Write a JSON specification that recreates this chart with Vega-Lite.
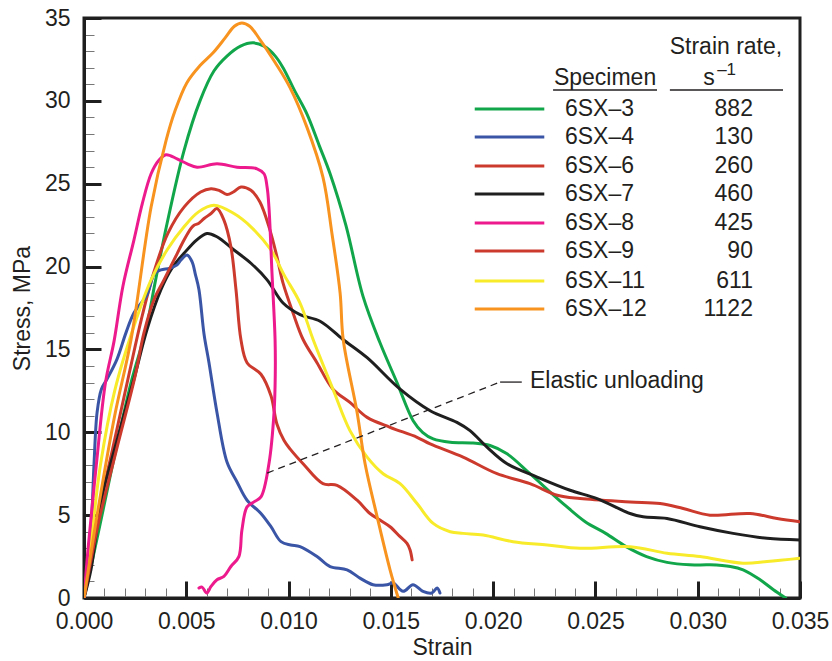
{
  "$schema": "https://vega.github.io/schema/vega-lite/v6.json",
  "width": 716,
  "height": 580,
  "autosize": "none",
  "padding": {"left": 84, "top": 18, "right": 32, "bottom": 63},
  "config": {
    "font": "Liberation Sans",
    "view": {"stroke": "#1f1f1f", "strokeWidth": 3},
    "text": {"font": "Liberation Sans", "fontSize": 23, "color": "#231f20"}
  },
  "resolve": {"axis": {"x": "independent", "y": "independent"}},
  "datasets": {
    "curves": [
      {"s": "6SX–3", "e": 0, "v": 0}, {"s": "6SX–3", "e": 0.0005, "v": 2.8}, {"s": "6SX–3", "e": 0.00088, "v": 5}, {"s": "6SX–3", "e": 0.0016, "v": 9.2}, {"s": "6SX–3", "e": 0.0023, "v": 13}, {"s": "6SX–3", "e": 0.00303, "v": 16.2}, {"s": "6SX–3", "e": 0.00347, "v": 19.0}, {"s": "6SX–3", "e": 0.00406, "v": 22.6}, {"s": "6SX–3", "e": 0.00489, "v": 27.0}, {"s": "6SX–3", "e": 0.00567, "v": 30.0}, {"s": "6SX–3", "e": 0.00635, "v": 31.8}, {"s": "6SX–3", "e": 0.00699, "v": 32.7}, {"s": "6SX–3", "e": 0.00765, "v": 33.3}, {"s": "6SX–3", "e": 0.00827, "v": 33.5}, {"s": "6SX–3", "e": 0.0088, "v": 33.3}, {"s": "6SX–3", "e": 0.00935, "v": 32.7}, {"s": "6SX–3", "e": 0.00973, "v": 32.0}, {"s": "6SX–3", "e": 0.0103, "v": 30.6}, {"s": "6SX–3", "e": 0.0109, "v": 29.2}, {"s": "6SX–3", "e": 0.0115, "v": 27.3}, {"s": "6SX–3", "e": 0.01203, "v": 25.6}, {"s": "6SX–3", "e": 0.0128, "v": 22.5}, {"s": "6SX–3", "e": 0.01364, "v": 18.2}, {"s": "6SX–3", "e": 0.01447, "v": 15.4}, {"s": "6SX–3", "e": 0.0153, "v": 13.0}, {"s": "6SX–3", "e": 0.01609, "v": 10.7}, {"s": "6SX–3", "e": 0.01655, "v": 10.0}, {"s": "6SX–3", "e": 0.01707, "v": 9.6}, {"s": "6SX–3", "e": 0.0179, "v": 9.4}, {"s": "6SX–3", "e": 0.01902, "v": 9.35}, {"s": "6SX–3", "e": 0.01985, "v": 9.2}, {"s": "6SX–3", "e": 0.02068, "v": 8.7}, {"s": "6SX–3", "e": 0.0218, "v": 7.5}, {"s": "6SX–3", "e": 0.02342, "v": 5.7}, {"s": "6SX–3", "e": 0.0245, "v": 4.6}, {"s": "6SX–3", "e": 0.0255, "v": 3.9}, {"s": "6SX–3", "e": 0.0265, "v": 3.1}, {"s": "6SX–3", "e": 0.0275, "v": 2.5}, {"s": "6SX–3", "e": 0.0285, "v": 2.15}, {"s": "6SX–3", "e": 0.0296, "v": 2.0}, {"s": "6SX–3", "e": 0.0306, "v": 2.0}, {"s": "6SX–3", "e": 0.0316, "v": 1.9}, {"s": "6SX–3", "e": 0.03222, "v": 1.7}, {"s": "6SX–3", "e": 0.03305, "v": 1.1}, {"s": "6SX–3", "e": 0.0337, "v": 0.5}, {"s": "6SX–3", "e": 0.0343, "v": 0},

      {"s": "6SX–6", "e": 0, "v": 0}, {"s": "6SX–6", "e": 0.0006, "v": 4.5}, {"s": "6SX–6", "e": 0.0014, "v": 9}, {"s": "6SX–6", "e": 0.0022, "v": 13.5}, {"s": "6SX–6", "e": 0.0028, "v": 16.8}, {"s": "6SX–6", "e": 0.0034, "v": 19.6}, {"s": "6SX–6", "e": 0.0041, "v": 22.0}, {"s": "6SX–6", "e": 0.0049, "v": 23.6}, {"s": "6SX–6", "e": 0.0057, "v": 24.5}, {"s": "6SX–6", "e": 0.00621, "v": 24.7}, {"s": "6SX–6", "e": 0.0066, "v": 24.6}, {"s": "6SX–6", "e": 0.00699, "v": 24.35}, {"s": "6SX–6", "e": 0.0073, "v": 24.5}, {"s": "6SX–6", "e": 0.00767, "v": 24.8}, {"s": "6SX–6", "e": 0.00816, "v": 24.6}, {"s": "6SX–6", "e": 0.0086, "v": 23.9}, {"s": "6SX–6", "e": 0.00909, "v": 22.2}, {"s": "6SX–6", "e": 0.00943, "v": 20.6}, {"s": "6SX–6", "e": 0.00973, "v": 19.0}, {"s": "6SX–6", "e": 0.01022, "v": 17.2}, {"s": "6SX–6", "e": 0.01071, "v": 15.6}, {"s": "6SX–6", "e": 0.01139, "v": 14.2}, {"s": "6SX–6", "e": 0.01217, "v": 12.6}, {"s": "6SX–6", "e": 0.013, "v": 11.8}, {"s": "6SX–6", "e": 0.01384, "v": 10.9}, {"s": "6SX–6", "e": 0.01496, "v": 10.3}, {"s": "6SX–6", "e": 0.01628, "v": 9.7}, {"s": "6SX–6", "e": 0.01692, "v": 9.3}, {"s": "6SX–6", "e": 0.01853, "v": 8.5}, {"s": "6SX–6", "e": 0.02019, "v": 7.5}, {"s": "6SX–6", "e": 0.0218, "v": 6.9}, {"s": "6SX–6", "e": 0.02313, "v": 6.2}, {"s": "6SX–6", "e": 0.02425, "v": 6.0}, {"s": "6SX–6", "e": 0.02669, "v": 5.8}, {"s": "6SX–6", "e": 0.02816, "v": 5.7}, {"s": "6SX–6", "e": 0.02929, "v": 5.4}, {"s": "6SX–6", "e": 0.0306, "v": 5.0}, {"s": "6SX–6", "e": 0.03256, "v": 5.1}, {"s": "6SX–6", "e": 0.03388, "v": 4.8}, {"s": "6SX–6", "e": 0.035, "v": 4.6},

      {"s": "6SX–7", "e": 0, "v": 0}, {"s": "6SX–7", "e": 0.00034, "v": 1.7}, {"s": "6SX–7", "e": 0.00083, "v": 5.8}, {"s": "6SX–7", "e": 0.00161, "v": 9.5}, {"s": "6SX–7", "e": 0.00244, "v": 13.2}, {"s": "6SX–7", "e": 0.00308, "v": 16.2}, {"s": "6SX–7", "e": 0.00376, "v": 18.6}, {"s": "6SX–7", "e": 0.0043, "v": 19.9}, {"s": "6SX–7", "e": 0.00489, "v": 20.8}, {"s": "6SX–7", "e": 0.0055, "v": 21.6}, {"s": "6SX–7", "e": 0.00601, "v": 22.0}, {"s": "6SX–7", "e": 0.0065, "v": 21.8}, {"s": "6SX–7", "e": 0.00733, "v": 21.0}, {"s": "6SX–7", "e": 0.00816, "v": 20.2}, {"s": "6SX–7", "e": 0.00895, "v": 19.2}, {"s": "6SX–7", "e": 0.00973, "v": 17.8}, {"s": "6SX–7", "e": 0.01056, "v": 17.1}, {"s": "6SX–7", "e": 0.01154, "v": 16.7}, {"s": "6SX–7", "e": 0.01266, "v": 15.6}, {"s": "6SX–7", "e": 0.01384, "v": 14.5}, {"s": "6SX–7", "e": 0.01545, "v": 12.6}, {"s": "6SX–7", "e": 0.01692, "v": 11.3}, {"s": "6SX–7", "e": 0.01823, "v": 10.6}, {"s": "6SX–7", "e": 0.01887, "v": 10.1}, {"s": "6SX–7", "e": 0.0197, "v": 9.1}, {"s": "6SX–7", "e": 0.02068, "v": 8.1}, {"s": "6SX–7", "e": 0.02215, "v": 7.3}, {"s": "6SX–7", "e": 0.02376, "v": 6.5}, {"s": "6SX–7", "e": 0.02508, "v": 6.0}, {"s": "6SX–7", "e": 0.02669, "v": 5.1}, {"s": "6SX–7", "e": 0.02733, "v": 4.9}, {"s": "6SX–7", "e": 0.0285, "v": 4.8}, {"s": "6SX–7", "e": 0.03011, "v": 4.3}, {"s": "6SX–7", "e": 0.03173, "v": 3.9}, {"s": "6SX–7", "e": 0.03339, "v": 3.6}, {"s": "6SX–7", "e": 0.035, "v": 3.5},

      {"s": "6SX–4", "e": 0, "v": 0}, {"s": "6SX–4", "e": 0.00034, "v": 4.1}, {"s": "6SX–4", "e": 0.00049, "v": 8.1}, {"s": "6SX–4", "e": 0.00064, "v": 11.2}, {"s": "6SX–4", "e": 0.00085, "v": 12.6}, {"s": "6SX–4", "e": 0.00112, "v": 13.2}, {"s": "6SX–4", "e": 0.00161, "v": 14.4}, {"s": "6SX–4", "e": 0.00205, "v": 16.0}, {"s": "6SX–4", "e": 0.00244, "v": 17.2}, {"s": "6SX–4", "e": 0.00308, "v": 18.3}, {"s": "6SX–4", "e": 0.00345, "v": 19.6}, {"s": "6SX–4", "e": 0.00376, "v": 19.8}, {"s": "6SX–4", "e": 0.0042, "v": 19.9}, {"s": "6SX–4", "e": 0.00455, "v": 20.1}, {"s": "6SX–4", "e": 0.00474, "v": 20.4}, {"s": "6SX–4", "e": 0.00504, "v": 20.7}, {"s": "6SX–4", "e": 0.00528, "v": 20.3}, {"s": "6SX–4", "e": 0.00545, "v": 19.5}, {"s": "6SX–4", "e": 0.00562, "v": 18.6}, {"s": "6SX–4", "e": 0.00587, "v": 15.9}, {"s": "6SX–4", "e": 0.00611, "v": 14.2}, {"s": "6SX–4", "e": 0.0065, "v": 11.2}, {"s": "6SX–4", "e": 0.00699, "v": 8.2}, {"s": "6SX–4", "e": 0.00748, "v": 7.0}, {"s": "6SX–4", "e": 0.00797, "v": 5.9}, {"s": "6SX–4", "e": 0.00865, "v": 5.1}, {"s": "6SX–4", "e": 0.00914, "v": 4.3}, {"s": "6SX–4", "e": 0.00963, "v": 3.4}, {"s": "6SX–4", "e": 0.0101, "v": 3.2}, {"s": "6SX–4", "e": 0.01056, "v": 3.1}, {"s": "6SX–4", "e": 0.01139, "v": 2.5}, {"s": "6SX–4", "e": 0.01203, "v": 1.9}, {"s": "6SX–4", "e": 0.01286, "v": 1.7}, {"s": "6SX–4", "e": 0.01349, "v": 1.2}, {"s": "6SX–4", "e": 0.01413, "v": 0.8}, {"s": "6SX–4", "e": 0.01481, "v": 0.8}, {"s": "6SX–4", "e": 0.01511, "v": 0.9}, {"s": "6SX–4", "e": 0.0156, "v": 0.4}, {"s": "6SX–4", "e": 0.01608, "v": 0.8}, {"s": "6SX–4", "e": 0.01657, "v": 0.4}, {"s": "6SX–4", "e": 0.017, "v": 0.3}, {"s": "6SX–4", "e": 0.01726, "v": 0.6}, {"s": "6SX–4", "e": 0.0174, "v": 0.3},

      {"s": "6SX–11", "e": 0, "v": 0}, {"s": "6SX–11", "e": 0.0004, "v": 4}, {"s": "6SX–11", "e": 0.0008, "v": 8}, {"s": "6SX–11", "e": 0.0015, "v": 12.5}, {"s": "6SX–11", "e": 0.00244, "v": 16.4}, {"s": "6SX–11", "e": 0.00328, "v": 19.2}, {"s": "6SX–11", "e": 0.00406, "v": 21.0}, {"s": "6SX–11", "e": 0.00489, "v": 22.4}, {"s": "6SX–11", "e": 0.0056, "v": 23.3}, {"s": "6SX–11", "e": 0.00635, "v": 23.7}, {"s": "6SX–11", "e": 0.00733, "v": 23.2}, {"s": "6SX–11", "e": 0.00816, "v": 22.4}, {"s": "6SX–11", "e": 0.00914, "v": 21.0}, {"s": "6SX–11", "e": 0.00978, "v": 19.5}, {"s": "6SX–11", "e": 0.01056, "v": 17.8}, {"s": "6SX–11", "e": 0.0112, "v": 15.6}, {"s": "6SX–11", "e": 0.01217, "v": 12.6}, {"s": "6SX–11", "e": 0.013, "v": 10.1}, {"s": "6SX–11", "e": 0.01384, "v": 8.5}, {"s": "6SX–11", "e": 0.01462, "v": 7.5}, {"s": "6SX–11", "e": 0.01545, "v": 6.9}, {"s": "6SX–11", "e": 0.01628, "v": 5.7}, {"s": "6SX–11", "e": 0.01707, "v": 4.5}, {"s": "6SX–11", "e": 0.0179, "v": 4.0}, {"s": "6SX–11", "e": 0.01853, "v": 3.9}, {"s": "6SX–11", "e": 0.01951, "v": 3.8}, {"s": "6SX–11", "e": 0.02097, "v": 3.4}, {"s": "6SX–11", "e": 0.02264, "v": 3.2}, {"s": "6SX–11", "e": 0.02425, "v": 3.0}, {"s": "6SX–11", "e": 0.02669, "v": 3.1}, {"s": "6SX–11", "e": 0.0285, "v": 2.7}, {"s": "6SX–11", "e": 0.03011, "v": 2.5}, {"s": "6SX–11", "e": 0.03222, "v": 2.1}, {"s": "6SX–11", "e": 0.03339, "v": 2.2}, {"s": "6SX–11", "e": 0.035, "v": 2.4},

      {"s": "6SX–9", "e": 0, "v": 0}, {"s": "6SX–9", "e": 0.0007, "v": 4.5}, {"s": "6SX–9", "e": 0.0016, "v": 9}, {"s": "6SX–9", "e": 0.0025, "v": 13.4}, {"s": "6SX–9", "e": 0.00293, "v": 16.0}, {"s": "6SX–9", "e": 0.00342, "v": 18.0}, {"s": "6SX–9", "e": 0.00391, "v": 19.2}, {"s": "6SX–9", "e": 0.0044, "v": 20.4}, {"s": "6SX–9", "e": 0.00489, "v": 21.6}, {"s": "6SX–9", "e": 0.00523, "v": 22.3}, {"s": "6SX–9", "e": 0.00538, "v": 22.5}, {"s": "6SX–9", "e": 0.0056, "v": 22.6}, {"s": "6SX–9", "e": 0.00587, "v": 22.9}, {"s": "6SX–9", "e": 0.00621, "v": 23.2}, {"s": "6SX–9", "e": 0.0065, "v": 23.5}, {"s": "6SX–9", "e": 0.00684, "v": 22.8}, {"s": "6SX–9", "e": 0.00718, "v": 21.2}, {"s": "6SX–9", "e": 0.00743, "v": 18.6}, {"s": "6SX–9", "e": 0.00767, "v": 15.6}, {"s": "6SX–9", "e": 0.00797, "v": 14.2}, {"s": "6SX–9", "e": 0.00865, "v": 13.5}, {"s": "6SX–9", "e": 0.00914, "v": 12.2}, {"s": "6SX–9", "e": 0.00943, "v": 10.5}, {"s": "6SX–9", "e": 0.00978, "v": 9.5}, {"s": "6SX–9", "e": 0.01007, "v": 9.0}, {"s": "6SX–9", "e": 0.01071, "v": 8.1}, {"s": "6SX–9", "e": 0.01168, "v": 6.9}, {"s": "6SX–9", "e": 0.01237, "v": 6.8}, {"s": "6SX–9", "e": 0.01335, "v": 5.9}, {"s": "6SX–9", "e": 0.01398, "v": 5.1}, {"s": "6SX–9", "e": 0.01447, "v": 4.7}, {"s": "6SX–9", "e": 0.01496, "v": 4.3}, {"s": "6SX–9", "e": 0.01545, "v": 3.7}, {"s": "6SX–9", "e": 0.01579, "v": 3.3}, {"s": "6SX–9", "e": 0.01594, "v": 2.9}, {"s": "6SX–9", "e": 0.01604, "v": 2.3},

      {"s": "6SX–8", "e": 0, "v": 0}, {"s": "6SX–8", "e": 0.0002, "v": 3}, {"s": "6SX–8", "e": 0.0006, "v": 8}, {"s": "6SX–8", "e": 0.00105, "v": 13}, {"s": "6SX–8", "e": 0.00147, "v": 15.5}, {"s": "6SX–8", "e": 0.0019, "v": 18.8}, {"s": "6SX–8", "e": 0.00244, "v": 21.6}, {"s": "6SX–8", "e": 0.00285, "v": 23.8}, {"s": "6SX–8", "e": 0.00328, "v": 25.6}, {"s": "6SX–8", "e": 0.00365, "v": 26.4}, {"s": "6SX–8", "e": 0.00401, "v": 26.75}, {"s": "6SX–8", "e": 0.00455, "v": 26.5}, {"s": "6SX–8", "e": 0.00505, "v": 26.2}, {"s": "6SX–8", "e": 0.00553, "v": 26.0}, {"s": "6SX–8", "e": 0.0065, "v": 26.2}, {"s": "6SX–8", "e": 0.00748, "v": 26.0}, {"s": "6SX–8", "e": 0.00846, "v": 25.9}, {"s": "6SX–8", "e": 0.0088, "v": 25.6}, {"s": "6SX–8", "e": 0.00895, "v": 24.8}, {"s": "6SX–8", "e": 0.00904, "v": 23.6}, {"s": "6SX–8", "e": 0.00919, "v": 19.6}, {"s": "6SX–8", "e": 0.00934, "v": 15.6}, {"s": "6SX–8", "e": 0.00935, "v": 13.5}, {"s": "6SX–8", "e": 0.00929, "v": 11.2}, {"s": "6SX–8", "e": 0.00904, "v": 8.1}, {"s": "6SX–8", "e": 0.00865, "v": 6.1}, {"s": "6SX–8", "e": 0.00831, "v": 5.8}, {"s": "6SX–8", "e": 0.00797, "v": 5.5}, {"s": "6SX–8", "e": 0.00772, "v": 4.1}, {"s": "6SX–8", "e": 0.00757, "v": 2.5}, {"s": "6SX–8", "e": 0.00718, "v": 1.9}, {"s": "6SX–8", "e": 0.00684, "v": 1.3}, {"s": "6SX–8", "e": 0.0065, "v": 1.1}, {"s": "6SX–8", "e": 0.00621, "v": 0.7}, {"s": "6SX–8", "e": 0.006, "v": 0.3}, {"s": "6SX–8", "e": 0.00577, "v": 0.66}, {"s": "6SX–8", "e": 0.00562, "v": 0.6},

      {"s": "6SX–12", "e": 0, "v": 0}, {"s": "6SX–12", "e": 0.00064, "v": 5}, {"s": "6SX–12", "e": 0.0015, "v": 11}, {"s": "6SX–12", "e": 0.0023, "v": 15.6}, {"s": "6SX–12", "e": 0.00328, "v": 23.6}, {"s": "6SX–12", "e": 0.00401, "v": 27.6}, {"s": "6SX–12", "e": 0.00445, "v": 29.4}, {"s": "6SX–12", "e": 0.00503, "v": 31.1}, {"s": "6SX–12", "e": 0.00565, "v": 32.1}, {"s": "6SX–12", "e": 0.00631, "v": 32.9}, {"s": "6SX–12", "e": 0.0069, "v": 33.8}, {"s": "6SX–12", "e": 0.00735, "v": 34.5}, {"s": "6SX–12", "e": 0.00772, "v": 34.7}, {"s": "6SX–12", "e": 0.0081, "v": 34.5}, {"s": "6SX–12", "e": 0.0086, "v": 33.7}, {"s": "6SX–12", "e": 0.00935, "v": 32.3}, {"s": "6SX–12", "e": 0.01007, "v": 30.8}, {"s": "6SX–12", "e": 0.0109, "v": 28.4}, {"s": "6SX–12", "e": 0.01168, "v": 25.4}, {"s": "6SX–12", "e": 0.01212, "v": 22.0}, {"s": "6SX–12", "e": 0.01252, "v": 18.4}, {"s": "6SX–12", "e": 0.01267, "v": 15.6}, {"s": "6SX–12", "e": 0.01335, "v": 11.2}, {"s": "6SX–12", "e": 0.01374, "v": 8.1}, {"s": "6SX–12", "e": 0.01433, "v": 4.9}, {"s": "6SX–12", "e": 0.01496, "v": 1.7}, {"s": "6SX–12", "e": 0.01536, "v": 0}
    ],
    "legend": [
      {"s": "6SX–3", "rate": "882", "ly": 29.51},
      {"s": "6SX–4", "rate": "130", "ly": 27.82},
      {"s": "6SX–6", "rate": "260", "ly": 26.07},
      {"s": "6SX–7", "rate": "460", "ly": 24.38},
      {"s": "6SX–8", "rate": "425", "ly": 22.63},
      {"s": "6SX–9", "rate": "90", "ly": 20.94},
      {"s": "6SX–11", "rate": "611", "ly": 19.13},
      {"s": "6SX–12", "rate": "1122", "ly": 17.44}
    ],
    "headers": [
      {"t": "Specimen", "x": 0.02547, "y": 31.4},
      {"t": "Strain rate,", "x": 0.03138, "y": 33.25},
      {"t": "s", "x": 0.03055, "y": 31.4}
    ],
    "sup": [
      {"t": "–1", "x": 0.03095, "y": 31.85}
    ],
    "underlines": [
      {"x": 0.02293, "x2": 0.02801, "y": 30.66},
      {"x": 0.02864, "x2": 0.03417, "y": 30.66}
    ],
    "leader": [
      {"x": 0.00895, "y": 7.54, "x2": 0.02034, "y2": 13.03}
    ],
    "leaderEnd": [
      {"x": 0.02034, "x2": 0.0214, "y": 13.03}
    ],
    "note": [
      {"t": "Elastic unloading", "x": 0.0218, "y": 13.1}
    ]
  },
  "layer": [
    {
      "data": {"name": "curves"},
      "mark": {"type": "line", "strokeWidth": 3, "strokeJoin": "round", "strokeCap": "round", "clip": true, "interpolate": "catmull-rom"},
      "encoding": {
        "x": {
          "field": "e", "type": "quantitative",
          "scale": {"domain": [0, 0.035], "nice": false, "zero": false},
          "axis": {
            "title": "Strain",
            "values": [0,0.001,0.002,0.003,0.004,0.005,0.006,0.007,0.008,0.009,0.01,0.011,0.012,0.013,0.014,0.015,0.016,0.017,0.018,0.019,0.02,0.021,0.022,0.023,0.024,0.025,0.026,0.027,0.028,0.029,0.03,0.031,0.032,0.033,0.034,0.035],
            "labelExpr": "abs(datum.value*200 - round(datum.value*200)) < 0.000001 ? format(datum.value, '.3f') : ''",
            "tickSize": {"condition": {"test": "abs(datum.value*200 - round(datum.value*200)) < 0.000001", "value": -17}, "value": -10},
            "tickWidth": {"condition": {"test": "abs(datum.value*200 - round(datum.value*200)) < 0.000001", "value": 3}, "value": 1},
            "tickColor": {"condition": {"test": "abs(datum.value*200 - round(datum.value*200)) < 0.000001", "value": "#1f1f1f"}, "value": "#777777"},
            "labelOverlap": false, "labelFlush": false,
            "labelFontSize": 23, "labelColor": "#231f20", "labelFont": "Liberation Sans",
            "labelPadding": 29,
            "titleFontSize": 23, "titleFontWeight": "normal", "titleColor": "#231f20", "titleFont": "Liberation Sans",
            "titlePadding": -4,
            "domainColor": "#1f1f1f", "domainWidth": 3, "grid": false
          }
        },
        "y": {
          "field": "v", "type": "quantitative",
          "scale": {"domain": [0, 35], "nice": false},
          "axis": {
            "title": "Stress, MPa",
            "values": [0,1,2,3,4,5,6,7,8,9,10,11,12,13,14,15,16,17,18,19,20,21,22,23,24,25,26,27,28,29,30,31,32,33,34,35],
            "labelExpr": "datum.value % 5 == 0 ? format(datum.value, 'd') : ''",
            "tickSize": {"condition": {"test": "datum.value % 5 == 0", "value": -17}, "value": -10},
            "tickWidth": {"condition": {"test": "datum.value % 5 == 0", "value": 3}, "value": 1},
            "tickColor": {"condition": {"test": "datum.value % 5 == 0", "value": "#1f1f1f"}, "value": "#777777"},
            "labelOverlap": false, "labelFlush": false,
            "labelFontSize": 23, "labelColor": "#231f20", "labelFont": "Liberation Sans",
            "labelPadding": 31,
            "titleFontSize": 23, "titleFontWeight": "normal", "titleColor": "#231f20", "titleFont": "Liberation Sans",
            "titlePadding": 10,
            "domainColor": "#1f1f1f", "domainWidth": 3, "grid": false
          }
        },
        "color": {
          "field": "s", "type": "nominal",
          "scale": {
            "domain": ["6SX–3", "6SX–4", "6SX–6", "6SX–7", "6SX–8", "6SX–9", "6SX–11", "6SX–12"],
            "range": ["#12a64b", "#3a55a6", "#cc3a2e", "#1f1f1f", "#ec1a8c", "#cc3a2e", "#f7eb2a", "#f7931e"]
          },
          "legend": null
        },
        "order": {"value": null}
      }
    },
    {
      "data": {"name": "legend"},
      "mark": {"type": "rule", "strokeWidth": 3},
      "encoding": {
        "x": {"datum": 0.0191, "type": "quantitative", "axis": null},
        "x2": {"datum": 0.0225},
        "y": {"field": "ly", "type": "quantitative", "axis": null},
        "color": {"field": "s", "type": "nominal", "legend": null}
      }
    },
    {
      "data": {"name": "legend"},
      "mark": {"type": "text", "align": "left", "baseline": "middle", "fontSize": 23},
      "encoding": {
        "x": {"datum": 0.02351, "type": "quantitative", "axis": null},
        "y": {"field": "ly", "type": "quantitative", "axis": null},
        "text": {"field": "s"}
      }
    },
    {
      "data": {"name": "legend"},
      "mark": {"type": "text", "align": "right", "baseline": "middle", "fontSize": 23},
      "encoding": {
        "x": {"datum": 0.0327, "type": "quantitative", "axis": null},
        "y": {"field": "ly", "type": "quantitative", "axis": null},
        "text": {"field": "rate"}
      }
    },
    {
      "data": {"name": "headers"},
      "mark": {"type": "text", "align": "center", "baseline": "middle", "fontSize": 23},
      "encoding": {
        "x": {"field": "x", "type": "quantitative", "axis": null},
        "y": {"field": "y", "type": "quantitative", "axis": null},
        "text": {"field": "t"}
      }
    },
    {
      "data": {"name": "sup"},
      "mark": {"type": "text", "align": "left", "baseline": "middle", "fontSize": 17},
      "encoding": {
        "x": {"field": "x", "type": "quantitative", "axis": null},
        "y": {"field": "y", "type": "quantitative", "axis": null},
        "text": {"field": "t"}
      }
    },
    {
      "data": {"name": "underlines"},
      "mark": {"type": "rule", "strokeWidth": 1.5, "color": "#231f20"},
      "encoding": {
        "x": {"field": "x", "type": "quantitative", "axis": null},
        "x2": {"field": "x2"},
        "y": {"field": "y", "type": "quantitative", "axis": null}
      }
    },
    {
      "data": {"name": "leader"},
      "mark": {"type": "rule", "strokeWidth": 1.3, "strokeDash": [7, 5], "color": "#231f20"},
      "encoding": {
        "x": {"field": "x", "type": "quantitative", "axis": null},
        "x2": {"field": "x2"},
        "y": {"field": "y", "type": "quantitative", "axis": null},
        "y2": {"field": "y2"}
      }
    },
    {
      "data": {"name": "leaderEnd"},
      "mark": {"type": "rule", "strokeWidth": 1.3, "color": "#231f20"},
      "encoding": {
        "x": {"field": "x", "type": "quantitative", "axis": null},
        "x2": {"field": "x2"},
        "y": {"field": "y", "type": "quantitative", "axis": null}
      }
    },
    {
      "data": {"name": "note"},
      "mark": {"type": "text", "align": "left", "baseline": "middle", "fontSize": 23},
      "encoding": {
        "x": {"field": "x", "type": "quantitative", "axis": null},
        "y": {"field": "y", "type": "quantitative", "axis": null},
        "text": {"field": "t"}
      }
    }
  ]
}
